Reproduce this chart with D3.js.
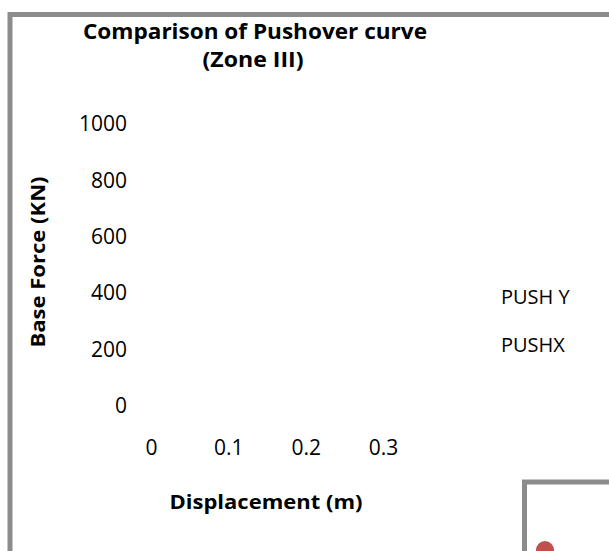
<!DOCTYPE html>
<html>
<head>
<meta charset="utf-8">
<script src="https://cdn.jsdelivr.net/npm/d3@7"></script>
<style>
  html, body { margin: 0; padding: 0; background: #fff; }
  svg { display: block; }
  text { font-family: "Open Sans", "DejaVu Sans", sans-serif; fill: #000; }
</style>
</head>
<body>
<svg id="chart" width="609" height="551"></svg>
<script>
// ---- data ----
const titleLines = ["Comparison of Pushover curve", "(Zone III)"];
const xTickValues = [0, 0.1, 0.2, 0.3];
const yTickValues = [0, 200, 400, 600, 800, 1000];
const seriesNames = ["PUSH Y", "PUSHX"];
// Series points are not visible in the reference (no lines drawn)
const pushY = [];
const pushX = [];
// fragment of an overlapping second chart: one visible red marker
const fragmentPoints = [{x: 0, y: 0}];

const svg = d3.select("#chart");

// outer chart frame
svg.append("rect")
  .attr("x", 10).attr("y", 14.5)
  .attr("width", 700).attr("height", 700)
  .attr("fill", "none")
  .attr("stroke", "#8c8c8c")
  .attr("stroke-width", 5);

// title
svg.append("text")
  .attr("x", 255).attr("y", 39)
  .attr("text-anchor", "middle")
  .attr("font-weight", "bold").attr("font-size", 22)
  .attr("textLength", 344).attr("lengthAdjust", "spacingAndGlyphs")
  .text(titleLines[0]);
svg.append("text")
  .attr("x", 253).attr("y", 67)
  .attr("text-anchor", "middle")
  .attr("font-weight", "bold").attr("font-size", 22)
  .attr("textLength", 101).attr("lengthAdjust", "spacingAndGlyphs")
  .text(titleLines[1]);

// scales
const x = d3.scaleLinear().domain([0, 0.3]).range([151, 383]);
const y = d3.scaleLinear().domain([0, 1000]).range([406, 124]);

// y axis (labels only)
const yAxis = svg.append("g")
  .attr("transform", "translate(127,0)")
  .call(d3.axisLeft(y).tickValues(yTickValues).tickFormat(d3.format("d")).tickSize(0).tickPadding(0));
yAxis.select(".domain").remove();
yAxis.selectAll("text")
  .attr("font-size", 21)
  .attr("font-family", "'Open Sans', sans-serif")
  .attr("fill", "#000");

// x axis (labels only)
const xAxis = svg.append("g")
  .attr("transform", "translate(0,440)")
  .call(d3.axisBottom(x).tickValues(xTickValues).tickFormat(d => d === 0 ? "0" : d3.format(".1f")(d)).tickSize(0).tickPadding(0));
xAxis.select(".domain").remove();
xAxis.selectAll("text")
  .attr("font-size", 21)
  .attr("font-family", "'Open Sans', sans-serif")
  .attr("fill", "#000");

// series lines (no data visible)
const line = d3.line().x(d => x(d.x)).y(d => y(d.y));
[pushY, pushX].forEach((s, i) => {
  if (s.length) svg.append("path").datum(s)
    .attr("d", line).attr("fill", "none")
    .attr("stroke", i === 0 ? "#4f81bd" : "#c0504d").attr("stroke-width", 2.5);
});

// axis titles
svg.append("text")
  .attr("transform", "translate(45,262) rotate(-90)")
  .attr("text-anchor", "middle")
  .attr("font-weight", "bold").attr("font-size", 20)
  .attr("textLength", 171).attr("lengthAdjust", "spacingAndGlyphs")
  .text("Base Force (KN)");
svg.append("text")
  .attr("x", 266).attr("y", 509)
  .attr("text-anchor", "middle")
  .attr("font-weight", "bold").attr("font-size", 20)
  .attr("textLength", 193).attr("lengthAdjust", "spacingAndGlyphs")
  .text("Displacement (m)");

// legend (text only)
svg.selectAll("text.legend").data(seriesNames).join("text")
  .attr("class", "legend")
  .attr("x", 501)
  .attr("y", (d, i) => 304 + i * 48)
  .attr("font-size", 20)
  .text(d => d);

// overlapping fragment of a second chart
svg.append("rect")
  .attr("x", 524.5).attr("y", 482)
  .attr("width", 200).attr("height", 200)
  .attr("fill", "#fff")
  .attr("stroke", "#8c8c8c")
  .attr("stroke-width", 5);
const fx = d3.scaleLinear().domain([0, 1]).range([545, 600]);
const fy = d3.scaleLinear().domain([0, 1]).range([550, 500]);
svg.selectAll("circle.frag").data(fragmentPoints).join("circle")
  .attr("class", "frag")
  .attr("cx", d => fx(d.x)).attr("cy", d => fy(d.y))
  .attr("r", 9)
  .attr("fill", "#c0504d");
</script>
</body>
</html>
